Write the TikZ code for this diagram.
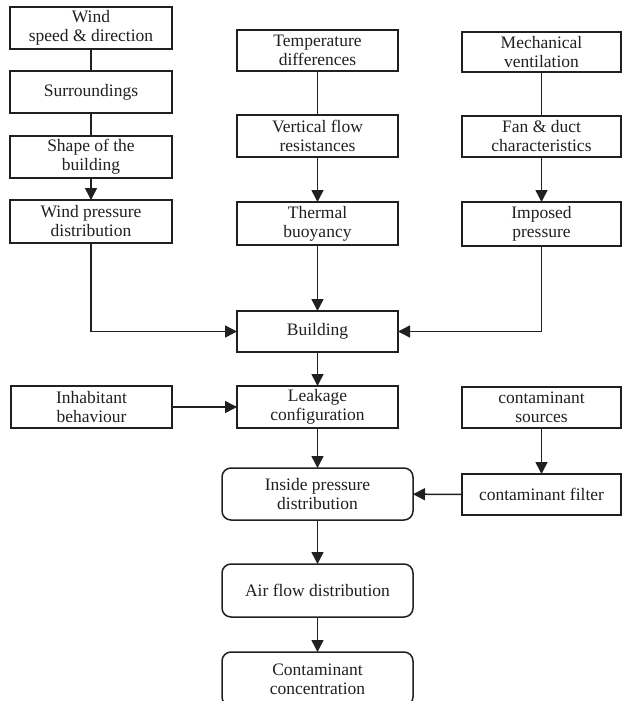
\documentclass[tikz,border=0pt]{standalone}
\usepackage{fontspec}
\setmainfont{Liberation Serif}
\usetikzlibrary{arrows.meta}
\definecolor{ink}{HTML}{202020}
\begin{document}
\begin{tikzpicture}[x=1pt,y=-1pt,
  box/.style={draw=ink,line width=1.5pt,inner sep=0pt,outer sep=0pt,align=center,text=ink,
    font=\fontsize{17.5}{19}\selectfont},
  rbox/.style={box,rounded corners=9pt},
  conn/.style={draw=ink,line width=1.5pt},
  arr/.style={conn,-{Triangle[length=12pt,width=12pt]}}]
\useasboundingbox[fill=white] (0,0) rectangle (622,701);
% left column
\node[box,minimum width=162pt,minimum height=42pt] (wind) at (91,28) {Wind\\speed \& direction};
\node[box,minimum width=162pt,minimum height=42pt] (sur) at (91,92) {Surroundings};
\node[box,minimum width=162pt,minimum height=42pt] (shape) at (91,157) {Shape of the\\building};
\node[box,minimum width=162pt,minimum height=43pt] (wpd) at (91,221.5) {Wind pressure\\distribution};
% middle column
\node[box,minimum width=161pt,minimum height=41pt] (temp) at (317.5,50.5) {Temperature\\differences};
\node[box,minimum width=161pt,minimum height=42pt] (vert) at (317.5,136) {Vertical flow\\resistances};
\node[box,minimum width=161pt,minimum height=43pt] (therm) at (317.5,223.5) {Thermal\\buoyancy};
% right column
\node[box,minimum width=159pt,minimum height=40pt] (mech) at (541.5,52) {Mechanical\\ventilation};
\node[box,minimum width=159pt,minimum height=41pt] (fan) at (541.5,136.5) {Fan \& duct\\characteristics};
\node[box,minimum width=159pt,minimum height=44pt] (imp) at (541.5,224) {Imposed\\pressure};
% central
\node[box,minimum width=161pt,minimum height=41pt] (bld) at (317.5,331.5) {Building};
\node[box,minimum width=161pt,minimum height=42pt] (inh) at (91.5,407) {Inhabitant\\behaviour};
\node[box,minimum width=161pt,minimum height=42pt] (leak) at (317.5,407) {Leakage\\configuration};
\node[box,minimum width=159pt,minimum height=41pt] (src) at (541.5,407.5) {contaminant\\sources};
\node[rbox,minimum width=191pt,minimum height=52pt] (ipd) at (317.5,494) {Inside pressure\\distribution};
\node[box,minimum width=159pt,minimum height=41pt] (filt) at (541.5,494.5) {contaminant filter};
\node[rbox,minimum width=191pt,minimum height=53pt] (afd) at (317.5,590.5) {Air flow distribution};
\node[rbox,minimum width=191pt,minimum height=54pt] (conc) at (317.5,679) {Contaminant\\concentration};
% connectors
\draw[conn] (wind) -- (sur);
\draw[conn] (sur) -- (shape);
\draw[arr] (shape) -- (wpd);
\draw[conn] (temp) -- (vert);
\draw[arr] (vert) -- (therm);
\draw[conn] (mech) -- (fan);
\draw[arr] (fan) -- (imp);
\draw[arr] (therm) -- (bld);
\draw[arr] (wpd.south) |- (bld.west);
\draw[arr] (imp.south) |- (bld.east);
\draw[arr] (bld) -- (leak);
\draw[arr] (inh) -- (leak);
\draw[arr] (leak) -- (ipd);
\draw[arr] (src) -- (filt);
\draw[arr] (filt) -- (ipd);
\draw[arr] (ipd) -- (afd);
\draw[arr] (afd) -- (conc);
\end{tikzpicture}
\end{document}
